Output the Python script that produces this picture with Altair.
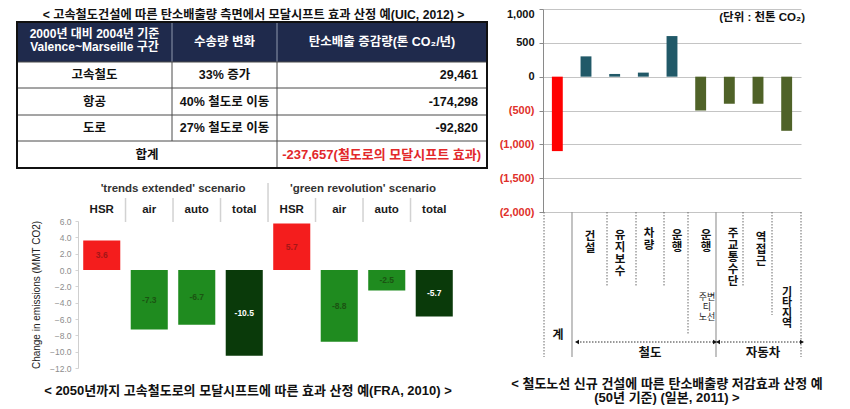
import altair as alt
import pandas as pd

# ======================= data =======================
# UIC (2012) table
uic_title = "< 고속철도건설에 따른 탄소배출량 측면에서 모달시프트 효과 산정 예(UIC, 2012) >"
uic_head = ["2000년 대비 2004년 기준\nValence~Marseille 구간", "수송량 변화", "탄소배출 증감량(톤 CO₂/년)"]
uic_mode = ["고속철도", "항공", "도로"]
uic_shift = ["33% 증가", "40% 철도로 이동", "27% 철도로 이동"]
uic_co2 = [29461, -174298, -92820]
uic_sum_label = "합계"
uic_sum = -237657
uic_sum_note = "(철도로의 모달시프트 효과)"

# FRA (2010) bars
fra_scen = ["'trends extended' scenario", "'green revolution' scenario"]
fra_scen_id = ["te", "gr"]
fra_mode = ["HSR", "air", "auto", "total"]
fra_trends = [3.6, -7.3, -6.7, -10.5]
fra_green = [5.7, -8.8, -2.5, -5.7]
fra_ticks = [6, 4, 2, 0, -2, -4, -6, -8, -10, -12]
fra_ytitle = "Change in emissions (MMT CO2)"
fra_caption = "< 2050년까지 고속철도로의 모달시프트에 따른 효과 산정 예(FRA, 2010) >"

# Japan (2011) bars
jp_item = ["계", "건설", "유지보수", "차량", "운행", "운행(주변노선)", "주교통수단", "역접근", "기타지역"]
jp_value = [-1100, 300, 40, 60, 600, -500, -400, -400, -800]
jp_ticks = [1000, 500, 0, -500, -1000, -1500, -2000]
jp_unit = "(단위 : 천톤 CO₂)"
jp_label = ["계", "건\n설", "유\n지\n보\n수", "차\n량", "운\n행", "운\n행",
            "주\n교\n통\n수\n단", "역\n접\n근", "기\n타\n지\n역"]
jp_sublabel = "주변\n티\n노선"
jp_group = ["철도", "자동차"]
jp_caption = ["< 철도노선 신규 건설에 따른 탄소배출량 저감효과 산정 예", "(50년 기준) (일본, 2011) >"]

# ======================= layout / style =======================
LF = "Liberation Sans, Arial, sans-serif"
KF = "Liberation Sans, Noto Sans CJK KR, sans-serif"

# table geometry in table units (1 unit = 1 px)
TX = [0, 155, 260, 470]
TY = [0, 40, 66, 93, 119, 146]


def TXe(f):
    return alt.X(f + ":Q", scale=alt.Scale(domain=[61, 470], nice=False, zero=False), axis=None)


def TYe(f):
    return alt.Y(f + ":Q", scale=alt.Scale(domain=[-13, 146], nice=False, zero=False, reverse=True), axis=None)


# ---------- UIC table ----------
hdr_rect = pd.DataFrame([dict(x=TX[0], x2=TX[-1], y=TY[0], y2=TY[1])])
dark_lines = pd.DataFrame(
    [dict(x=TX[0], x2=TX[-1], y=v, y2=v) for v in TY[1:-1]]
    + [dict(x=TX[1], x2=TX[1], y=TY[1], y2=TY[-2]), dict(x=TX[2], x2=TX[2], y=TY[1], y2=TY[-1])]
)
light_lines = pd.DataFrame([dict(x=v, x2=v, y=TY[0], y2=TY[1]) for v in TX[1:-1]])
border = pd.DataFrame([dict(x=TX[0], x2=TX[-1], y=TY[0], y2=TY[-1])])

colc = [(TX[i] + TX[i + 1]) / 2 for i in range(3)]
rowc = [(TY[i] + TY[i + 1]) / 2 for i in range(1, 5)]

hdr_multi = pd.DataFrame(dict(x=[colc[0]], y=[6.5], t=[uic_head[0]]))
hdr_single = pd.DataFrame(dict(x=colc[1:], y=[(TY[0] + TY[1]) / 2] * 2, t=uic_head[1:]))
body_c = pd.DataFrame(dict(
    x=[colc[0]] * 3 + [colc[1]] * 3 + [(TX[0] + TX[2]) / 2],
    y=rowc[:3] + rowc[:3] + [rowc[3]],
    t=uic_mode + uic_shift + [uic_sum_label],
))
body_r = pd.DataFrame(dict(x=[TX[-1] - 9] * 3, y=rowc[:3], t=[f"{v:,}" for v in uic_co2]))
sum_r = pd.DataFrame(dict(x=[TX[-1] - 6], y=[rowc[3]], t=[f"{uic_sum:,}{uic_sum_note}"]))
ttl = pd.DataFrame(dict(x=[236.5], y=[-7.5], t=[uic_title]))

table = alt.layer(
    alt.Chart(hdr_rect).mark_rect(color="#1f2a4c").encode(
        x=TXe("x"), x2="x2:Q", y=TYe("y"), y2="y2:Q"),
    alt.Chart(light_lines).mark_rule(color="#8f98ad", strokeWidth=1).encode(
        x=TXe("x"), x2="x2:Q", y=TYe("y"), y2="y2:Q"),
    alt.Chart(dark_lines).mark_rule(color="#4a4a4a", strokeWidth=1).encode(
        x=TXe("x"), x2="x2:Q", y=TYe("y"), y2="y2:Q"),
    alt.Chart(border).mark_rect(fill=None, stroke="#111111", strokeWidth=2).encode(
        x=TXe("x"), x2="x2:Q", y=TYe("y"), y2="y2:Q"),
    alt.Chart(hdr_multi).mark_text(font=KF, fontSize=12, fontWeight="bold", color="white",
                                   lineBreak="\n", lineHeight=13, baseline="top").encode(
        x=TXe("x"), y=TYe("y"), text="t:N"),
    alt.Chart(hdr_single).mark_text(font=KF, fontSize=12.5, fontWeight="bold", color="white",
                                    baseline="middle").encode(
        x=TXe("x"), y=TYe("y"), text="t:N"),
    alt.Chart(body_c).mark_text(font=KF, fontSize=12.5, fontWeight="bold", color="#111111",
                                baseline="middle").encode(x=TXe("x"), y=TYe("y"), text="t:N"),
    alt.Chart(body_r).mark_text(font=KF, fontSize=12.5, fontWeight="bold", color="#111111",
                                align="right", baseline="middle").encode(x=TXe("x"), y=TYe("y"), text="t:N"),
    alt.Chart(sum_r).mark_text(font=KF, fontSize=13, fontWeight="bold", color="#e2282a",
                               align="right", baseline="middle").encode(x=TXe("x"), y=TYe("y"), text="t:N"),
    alt.Chart(ttl).mark_text(font=KF, fontSize=12.2, fontWeight="bold", color="#111111",
                             baseline="middle").encode(x=TXe("x"), y=TYe("y"), text="t:N"),
).properties(width=409, height=159)

# ---------- FRA bar chart ----------
fra_keys = [f"{s}|{m}" for s in fra_scen_id for m in fra_mode]
fra_df = pd.DataFrame(dict(key=fra_keys, mode=fra_mode * 2, value=fra_trends + fra_green))
fra_df["mid"] = fra_df["value"] / 2
fra_df["label"] = fra_df["value"].map(lambda v: f"{v:.1f}")

fx_scale = alt.Scale(domain=fra_keys, paddingInner=0.22, paddingOuter=0.11)
fx_axis = alt.Axis(orient="top", title=None, labelExpr="split(datum.label, '|')[1]", labelAngle=0,
                   ticks=False, domain=False, labelPadding=7, labelFont=LF, labelFontSize=11.5,
                   labelFontWeight="bold", labelColor="#1a1a1a")
fy_scale = alt.Scale(domain=[-12, 6], nice=False, zero=False)
fy_axis = alt.Axis(values=fra_ticks, format=".1f", title=fra_ytitle, titleFont=LF,
                   titleFontSize=10, titleFontWeight="normal", titleColor="#222222", titlePadding=8,
                   labelFont=LF, labelFontSize=8.5, labelColor="#8c8c8c", labelPadding=4,
                   tickSize=3, tickColor="#d4d4d4", domainColor="#cfcfcf", grid=False)


def FX(**kw):
    return alt.X("key:N", scale=fx_scale, axis=fx_axis, **kw)


def FY(f):
    return alt.Y(f + ":Q", scale=fy_scale, axis=fy_axis)


sep_short = pd.DataFrame(dict(key=[k for i, k in enumerate(fra_keys) if i not in (0, 4)]))
sep_long = pd.DataFrame(dict(key=[fra_keys[4]]))
scen_df = pd.DataFrame(dict(key=[fra_keys[2], fra_keys[6]], t=fra_scen))

fra_chart = alt.layer(
    alt.Chart(fra_df).mark_bar().encode(
        x=FX(), y=FY("value"),
        color=alt.Color("mode:N", legend=None,
                        scale=alt.Scale(domain=fra_mode, range=["#f41d1d", "#1f8b1f", "#1f8b1f", "#0a3a0a"]))),
    alt.Chart(fra_df).mark_text(font=LF, fontSize=8.5, fontWeight="bold", baseline="middle").encode(
        x=FX(), y=FY("mid"), text="label:N",
        color=alt.Color("mode:N", legend=None,
                        scale=alt.Scale(domain=fra_mode, range=["#a51616", "#1b5412", "#1b5412", "#ffffff"]))),
    alt.Chart(sep_short).mark_rule(color="#d2d2d2", strokeWidth=1.5, xOffset=-5.2).encode(
        x=FX(bandPosition=0), y=alt.value(-23), y2=alt.value(1)),
    alt.Chart(sep_long).mark_rule(color="#d2d2d2", strokeWidth=1.5, xOffset=-5.2).encode(
        x=FX(bandPosition=0), y=alt.value(-38), y2=alt.value(1)),
    alt.Chart(scen_df).mark_text(font=LF, fontSize=11.5, fontWeight="bold", color="#333333",
                                 baseline="middle", xOffset=-5.2).encode(
        x=FX(bandPosition=0), y=alt.value(-32), text="t:N"),
).resolve_scale(color="independent").properties(
    width=380, height=147,
    title=alt.TitleParams(fra_caption, orient="bottom", anchor="middle", dx=-20, offset=12,
                          font=KF, fontSize=13, fontWeight="bold", color="#111111"),
)

# ---------- Japan bar chart ----------
jp_df = pd.DataFrame(dict(item=jp_item, value=jp_value))
jp_df["kind"] = ["total"] + ["up" if v > 0 else "down" for v in jp_value[1:]]

jx = alt.X("item:N", scale=alt.Scale(domain=jp_item, paddingInner=0.62, paddingOuter=0.31), axis=None)
jy = alt.Y("value:Q", scale=alt.Scale(domain=[-2000, 1000], nice=False, zero=False),
           axis=alt.Axis(values=jp_ticks, title=None, grid=True, gridColor="#c4c4c4",
                         labelExpr="datum.value < 0 ? '(' + format(-datum.value, ',') + ')' : format(datum.value, ',')",
                         labelColor=alt.condition("datum.value < 0", alt.value("#e0302a"), alt.value("#111111")),
                         labelOffset=alt.condition("datum.value == 1000", alt.value(5), alt.value(0)),
                         labelFont=LF, labelFontSize=11, labelFontWeight="bold", labelPadding=5,
                         tickSize=4, tickColor="#8a8a8a", domainColor="#8a8a8a"))

unit_df = pd.DataFrame(dict(t=[jp_unit]))
jp_chart = alt.layer(
    alt.Chart(jp_df).mark_bar().encode(
        x=jx, y=jy,
        color=alt.Color("kind:N", legend=None,
                        scale=alt.Scale(domain=["total", "up", "down"], range=["#ff0000", "#215968", "#4f6228"]))),
    alt.Chart(unit_df).mark_text(font=KF, fontSize=11.5, fontWeight="bold", color="#111111",
                                 align="right", baseline="middle").encode(
        x=alt.value(262), y=alt.value(9), text="t:N"),
).properties(width=258, height=203)

# ---------- Japan category table ----------
def RX(f):
    return alt.X(f + ":Q", scale=alt.Scale(domain=[0, 258], nice=False, zero=False), axis=None)


def RY(f):
    return alt.Y(f + ":Q", scale=alt.Scale(domain=[0, 145], nice=False, zero=False, reverse=True), axis=None)


solid_df = pd.DataFrame(dict(x=[29, 173], y=[0, 0], y2=[145, 145]))
dot_df = pd.DataFrame(dict(x=[1, 64, 93, 121, 145, 200, 229, 258],
                           y=[0] * 8, y2=[145, 75, 75, 75, 122, 75, 103, 145]))
main_df = pd.DataFrame(dict(x=[47, 77, 106, 134, 163, 190, 218], y=[19, 18, 16, 18, 18, 16, 20], t=jp_label[1:8]))
etc_df = pd.DataFrame(dict(x=[244], y=[75], t=[jp_label[8]]))
tot_df = pd.DataFrame(dict(x=[15], y=[123], t=[jp_label[0]]))
sub_df = pd.DataFrame(dict(x=[164], y=[81], t=[jp_sublabel]))
grp_df = pd.DataFrame(dict(x=[107, 220], y=[141, 141], t=jp_group))
arrow_df = pd.DataFrame(dict(x=[34, 175], x2=[172, 259], y=[130, 130]))
head_df = pd.DataFrame(dict(x=[34, 172, 175, 259], y=[130] * 4,
                            s=["triangle-left", "triangle-right", "triangle-left", "triangle-right"]))

jp_table = alt.layer(
    alt.Chart(solid_df).mark_rule(color="#9a9a9a", strokeWidth=1.2).encode(x=RX("x"), y=RY("y"), y2="y2:Q"),
    alt.Chart(dot_df).mark_rule(color="#6a6a6a", strokeWidth=1, strokeDash=[1.5, 1.5]).encode(
        x=RX("x"), y=RY("y"), y2="y2:Q"),
    alt.Chart(main_df).mark_text(font=KF, fontSize=11.5, fontWeight="bold", color="#111111",
                                 lineBreak="\n", lineHeight=12, baseline="top").encode(
        x=RX("x"), y=RY("y"), text="t:N"),
    alt.Chart(etc_df).mark_text(font=KF, fontSize=11, fontWeight="bold", color="#111111",
                                lineBreak="\n", lineHeight=10.4, baseline="top").encode(
        x=RX("x"), y=RY("y"), text="t:N"),
    alt.Chart(sub_df).mark_text(font=KF, fontSize=9, color="#222222",
                                lineBreak="\n", lineHeight=10, baseline="top").encode(
        x=RX("x"), y=RY("y"), text="t:N"),
    alt.Chart(tot_df).mark_text(font=KF, fontSize=12, fontWeight="bold", color="#111111",
                                baseline="middle").encode(x=RX("x"), y=RY("y"), text="t:N"),
    alt.Chart(grp_df).mark_text(font=KF, fontSize=12.5, fontWeight="bold", color="#111111",
                                baseline="middle").encode(x=RX("x"), y=RY("y"), text="t:N"),
    alt.Chart(arrow_df).mark_rule(color="#333333", strokeWidth=1, strokeDash=[1.5, 1.5]).encode(
        x=RX("x"), x2="x2:Q", y=RY("y")),
    alt.Chart(head_df).mark_point(filled=True, color="#111111", size=22, opacity=1).encode(
        x=RX("x"), y=RY("y"), shape=alt.Shape("s:N", scale=None)),
).properties(
    width=258, height=145,
    title=alt.TitleParams(jp_caption, orient="bottom", anchor="middle", dx=-5, offset=18, lineHeight=14,
                          font=KF, fontSize=13, fontWeight="bold", color="#111111"),
)

# nested flush columns count as zero width in the outer layout, so the
# outer spacing carries the left column's width (409) plus the 56px gap
left = alt.vconcat(table, fra_chart, spacing=53, bounds="flush")
right = alt.vconcat(jp_chart, jp_table, spacing=0, bounds="flush")
chart = alt.hconcat(left, right, spacing=465, bounds="flush").properties(
    padding={"left": 8, "top": 0, "right": 4, "bottom": 0}
).configure_view(stroke=None)

chart.save("out.html", embed_options={"renderer": "svg", "actions": False})
